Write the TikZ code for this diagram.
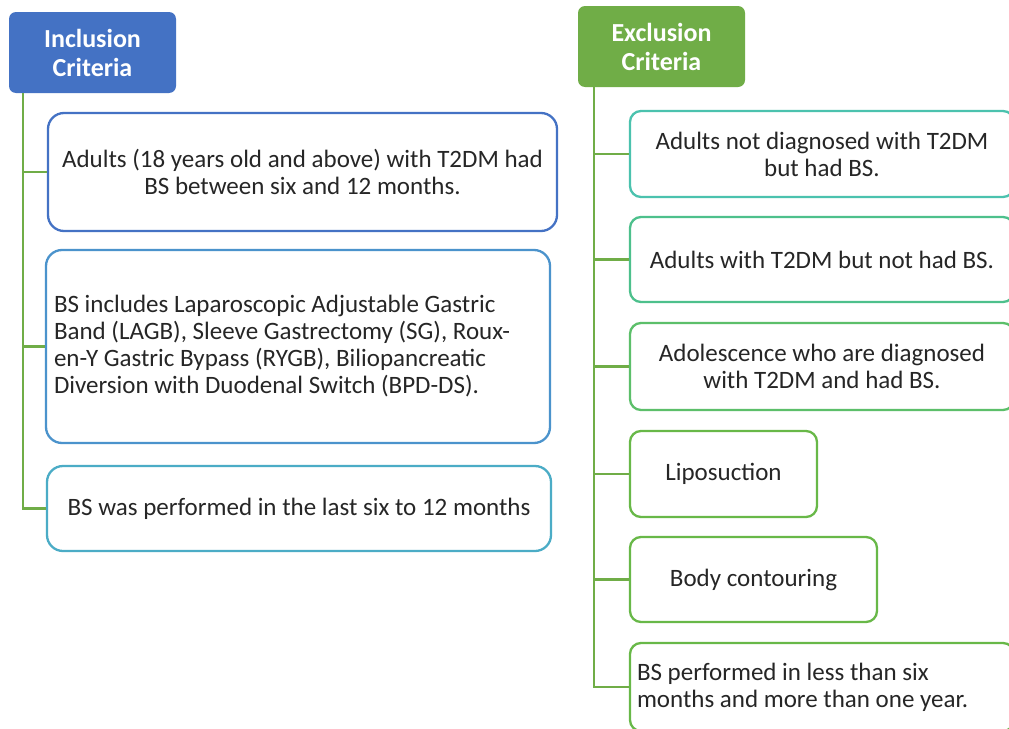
\documentclass[tikz,border=0pt]{standalone}
\usepackage{fontspec}
\setmainfont{Carlito}
\usetikzlibrary{calc}
\definecolor{hblue}{HTML}{4472C4}
\definecolor{hgreen}{HTML}{70AD47}
\definecolor{cA}{HTML}{4472C4}
\definecolor{cB}{HTML}{4B93CC}
\definecolor{cC}{HTML}{4BACC6}
\definecolor{cD}{HTML}{4BC2AE}
\definecolor{cE}{HTML}{4DC08C}
\definecolor{cF}{HTML}{5CBF6A}
\definecolor{cG}{HTML}{68B848}
\definecolor{txt}{HTML}{262626}
\tikzset{
  hdr/.style={rounded corners=7pt, inner sep=0pt, minimum width=167pt, minimum height=81pt,
    text=white, align=center, font=\fontsize{26}{29}\selectfont\bfseries},
  item/.style={draw, line width=2.3pt, rounded corners=16pt, inner sep=0pt, text=txt,
    font=\fontsize{25}{27}\selectfont},
  ritem/.style={item, rounded corners=11pt},
  conn/.style={draw=hgreen, line width=2.6pt},
}
\begin{document}
\begin{tikzpicture}[x=1pt,y=-1pt]
\clip (0,0) rectangle (1009,728);
\fill[white] (0,0) rectangle (1009,728);
% headers
\node[hdr, fill=hblue] (hL) at (92.5,52.5) {Inclusion\\Criteria};
\node[hdr, fill=hgreen] (hR) at (661.5,46.5) {Exclusion\\Criteria};
% left boxes
\node[item, draw=cA, minimum width=509pt, minimum height=118pt, align=center] (L1) at (302.5,172)
  {Adults (18 years old and above) with T2DM had\\BS between six and 12 months.};
\node[item, draw=cB, minimum width=504pt, minimum height=193pt, text width=488pt, align=flush left] (L2) at (298,346.5)
  {BS includes Laparoscopic Adjustable Gastric\\Band (LAGB), Sleeve Gastrectomy (SG), Roux-\\en-Y Gastric Bypass (RYGB), Biliopancreatic\\Diversion with Duodenal Switch (BPD-DS).};
\node[item, draw=cC, minimum width=504pt, minimum height=85pt, align=center] (L3) at (299,508.5)
  {BS was performed in the last six to 12 months};
% right boxes
\node[ritem, draw=cD, minimum width=384pt, minimum height=86pt, align=center] (R1) at (822,154)
  {Adults not diagnosed with T2DM\\but had BS.};
\node[ritem, draw=cE, minimum width=384pt, minimum height=85pt, align=center] (R2) at (822,259.5)
  {Adults with T2DM but not had BS.};
\node[ritem, draw=cF, minimum width=384pt, minimum height=87pt, align=center] (R3) at (822,366.5)
  {Adolescence who are diagnosed\\with T2DM and had BS.};
\node[ritem, draw=cG, minimum width=187pt, minimum height=86pt, align=center] (R4) at (723.5,474)
  {Liposuction};
\node[ritem, draw=cG, minimum width=247pt, minimum height=85pt, align=center] (R5) at (753.5,579.5)
  {Body contouring};
\node[ritem, draw=cG, minimum width=384pt, minimum height=88pt, text width=370pt, align=flush left] (R6) at (822,687)
  {BS performed in less than six\\months and more than one year.};
% connectors
\coordinate (lt) at ($(hL.south west)+(14,0)$);
\coordinate (rt) at ($(hR.south west)+(16,0)$);
\draw[conn] (lt) |- (L3.west);
\draw[conn] (lt |- L1.west) -- (L1.west);
\draw[conn] (lt |- L2.west) -- (L2.west);
\draw[conn] (rt) |- (R6.west);
\foreach \n in {R1,R2,R3,R4,R5}{\draw[conn] (rt |- \n.west) -- (\n.west);}
\end{tikzpicture}
\end{document}
